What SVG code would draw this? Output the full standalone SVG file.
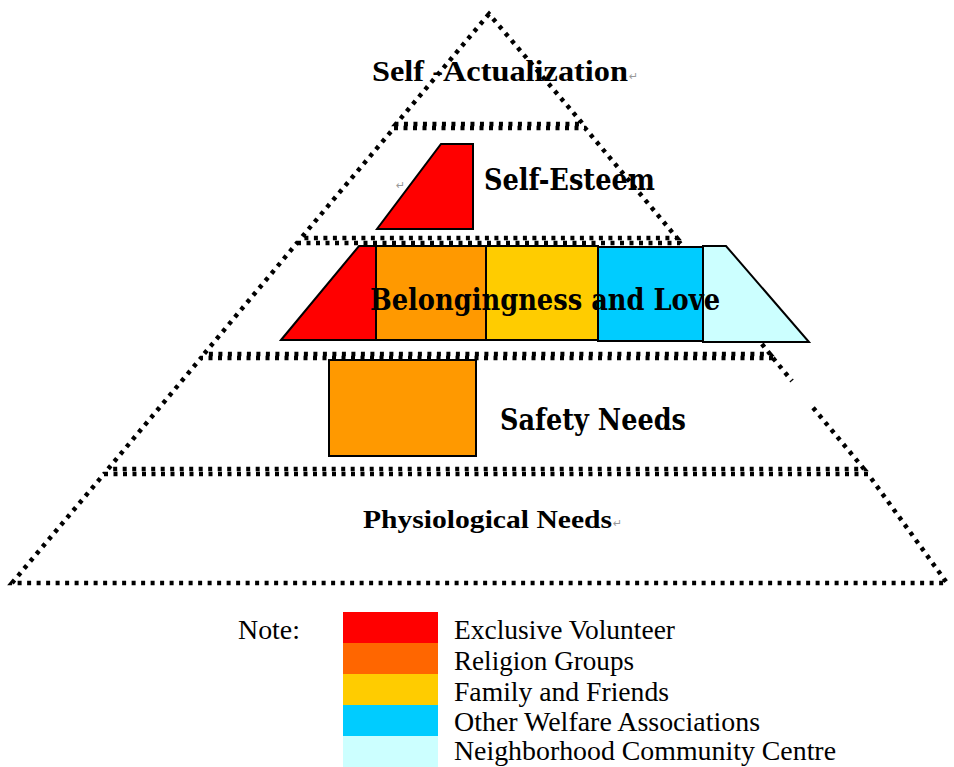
<svg xmlns="http://www.w3.org/2000/svg" width="954" height="767" viewBox="0 0 954 767">
<style>
.dot{fill:none;stroke:#000;stroke-width:4.5;stroke-dasharray:4 5.5;}
.shape{stroke:#000;stroke-width:2;}
.lbl{font-family:"Liberation Serif","DejaVu Serif",serif;font-weight:bold;fill:#000;}
.lbl2{font-family:"DejaVu Serif","Liberation Serif",serif;font-weight:bold;fill:#000;}
.pm{font-family:"DejaVu Sans",sans-serif;fill:#999;font-size:11px;}
.leg{font-family:"Liberation Serif","DejaVu Serif",serif;font-size:27px;fill:#000;}
</style>
<rect width="954" height="767" fill="#fff"/>
<g id="pyramid-outline">
<path class="dot" d="M489,14 L396,124 L583,124 Z"/>
<path class="dot" d="M394,128 L585,128 L677,238 L301,238 Z"/>
<path class="dot" d="M297,243 L680,243 L770,354 L204,354 Z"/>
<path class="dot" d="M773,358 L201,358 L108,469 L864,469 L810,404"/>
<path class="dot" d="M773,358 L792,381"/>
<path class="dot" d="M104,474 L868,474 L947,583 L12,583 Z"/>
</g>
<g id="self-actualization">
<text class="lbl" x="372" y="81" font-size="29" textLength="256" lengthAdjust="spacingAndGlyphs">Self -Actualization</text>
<text class="pm" x="629" y="80">↵</text>
</g>
<g id="self-esteem">
<polygon class="shape" fill="#FF0000" points="441,144 473,144 473,229 377,229"/>
<text class="pm" x="396" y="189">↵</text>
<text class="lbl2" x="484" y="190" font-size="30" textLength="171" lengthAdjust="spacingAndGlyphs">Self-Esteem</text>
</g>
<g id="belongingness">
<polygon class="shape" fill="#FF0000" points="281,340 359,246 376,246 376,340"/>
<rect class="shape" fill="#FF9900" x="376" y="246" width="110" height="94"/>
<rect class="shape" fill="#FFCC00" x="486" y="246" width="112" height="94"/>
<rect class="shape" fill="#00CCFF" x="598" y="247" width="105" height="94"/>
<polygon class="shape" fill="#CCFFFF" points="703,246 726,246 809,342 703,342"/>
<text class="lbl2" x="370" y="310" font-size="30" textLength="350" lengthAdjust="spacingAndGlyphs">Belongingness and Love</text>
</g>
<g id="safety">
<rect class="shape" fill="#FF9900" x="329" y="360" width="147" height="96"/>
<text class="lbl2" x="500" y="430" font-size="30" textLength="186" lengthAdjust="spacingAndGlyphs">Safety Needs</text>
</g>
<g id="physiological">
<text class="lbl" x="363" y="528" font-size="26" textLength="249" lengthAdjust="spacingAndGlyphs">Physiological Needs</text>
<text class="pm" x="613" y="527">↵</text>
</g>
<g id="legend">
<text class="leg" x="238" y="639" textLength="62" lengthAdjust="spacingAndGlyphs">Note:</text>
<rect x="343" y="612" width="95" height="31" fill="#FF0000"/>
<rect x="343" y="643" width="95" height="31" fill="#FF6600"/>
<rect x="343" y="674" width="95" height="31" fill="#FFCC00"/>
<rect x="343" y="705" width="95" height="31" fill="#00CCFF"/>
<rect x="343" y="736" width="95" height="31" fill="#CCFFFF"/>
<text class="leg" x="454" y="639" textLength="221" lengthAdjust="spacingAndGlyphs">Exclusive Volunteer</text>
<text class="leg" x="454" y="670" textLength="180" lengthAdjust="spacingAndGlyphs">Religion Groups</text>
<text class="leg" x="454" y="701" textLength="215" lengthAdjust="spacingAndGlyphs">Family and Friends</text>
<text class="leg" x="454" y="731" textLength="306" lengthAdjust="spacingAndGlyphs">Other Welfare Associations</text>
<text class="leg" x="454" y="760" textLength="382" lengthAdjust="spacingAndGlyphs">Neighborhood Community Centre</text>
</g>
</svg>
